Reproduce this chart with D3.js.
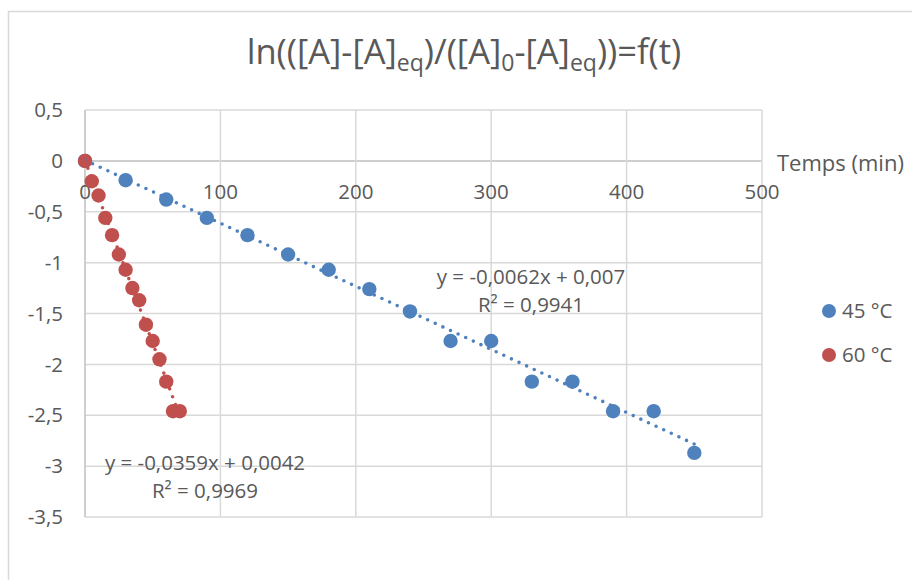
<!DOCTYPE html>
<html><head><meta charset="utf-8">
<script src="https://cdn.jsdelivr.net/npm/d3@7"></script>
<style>
body{margin:0;background:#fff;}
svg text{font-family:"Open Sans",sans-serif;fill:#595959;}
</style></head>
<body><svg id="c" width="912" height="580"></svg>
<script>
const series45X = [0,30,60,90,120,150,180,210,240,270,300,330,360,390,420,450];
const series45Y = [0,-0.19,-0.38,-0.56,-0.73,-0.92,-1.07,-1.26,-1.48,-1.77,-1.77,-2.17,-2.17,-2.46,-2.46,-2.87];
const series60X = [0,5,10,15,20,25,30,35,40,45,50,55,60,65,70];
const series60Y = [0,-0.2,-0.34,-0.56,-0.73,-0.92,-1.07,-1.25,-1.37,-1.61,-1.77,-1.95,-2.17,-2.46,-2.46];
const xTicks = [0,100,200,300,400,500];
const yTicks = [0.5,0,-0.5,-1,-1.5,-2,-2.5,-3,-3.5];
const seriesNames = ["45 °C","60 °C"];
const colors = ["#4F81BD","#C0504D"];
const fits = [{a:-0.0062,b:0.007,x0:0,x1:450,eq:"y = -0,0062x + 0,007",r2:"R² = 0,9941"},
              {a:-0.0359,b:0.0042,x0:0,x1:70,eq:"y = -0,0359x + 0,0042",r2:"R² = 0,9969"}];

const svg = d3.select("#c");
const fmt = v => String(v).replace(".", ",");
const x = d3.scaleLinear().domain([0,500]).range([85,762]);
const y = d3.scaleLinear().domain([-3.5,0.5]).range([517,110]);
const FS = 20.5;

// chart border
svg.append("rect").attr("x",8.5).attr("y",11.5).attr("width",1000).attr("height",1000)
  .attr("fill","none").attr("stroke","#d9d9d9").attr("stroke-width",1.5);

// title
const t = svg.append("text").attr("x",464).attr("y",64).attr("text-anchor","middle").attr("font-size",34.5);
t.append("tspan").text("ln(([A]-[A]");
t.append("tspan").attr("font-size",23).attr("dy",7).text("eq");
t.append("tspan").attr("dy",-7).text(")/([A]");
t.append("tspan").attr("font-size",23).attr("dy",7).text("0");
t.append("tspan").attr("dy",-7).text("-[A]");
t.append("tspan").attr("font-size",23).attr("dy",7).text("eq");
t.append("tspan").attr("dy",-7).text("))=f(t)");

// gridlines
const g = svg.append("g");
g.selectAll(".hg").data(yTicks).enter().append("line")
  .attr("x1",x(0)).attr("x2",x(500)).attr("y1",d=>y(d)).attr("y2",d=>y(d))
  .attr("stroke",d=>d===0?"#bfbfbf":"#d9d9d9").attr("stroke-width",1.5);
g.selectAll(".vg").data(xTicks).enter().append("line")
  .attr("y1",y(0.5)).attr("y2",y(-3.5)).attr("x1",d=>x(d)).attr("x2",d=>x(d))
  .attr("stroke",d=>d===0?"#bfbfbf":"#d9d9d9").attr("stroke-width",1.5);

// tick labels
svg.selectAll(".yl").data(yTicks).enter().append("text")
  .attr("x",63).attr("y",d=>y(d)).attr("dy","0.35em").attr("text-anchor","end")
  .attr("font-size",FS).text(fmt);
svg.selectAll(".xl").data(xTicks).enter().append("text")
  .attr("x",d=>x(d)).attr("y",y(0)+31).attr("dy","0.35em").attr("text-anchor","middle")
  .attr("font-size",FS).text(fmt);
svg.append("text").attr("x",777).attr("y",y(0)+2).attr("dy","0.35em").attr("font-size",22).text("Temps (min)");

// points
const data = [d3.zip(series45X,series45Y), d3.zip(series60X,series60Y)];
data.forEach((pts,i)=>{
  svg.append("g").selectAll("circle").data(pts).enter().append("circle")
    .attr("cx",d=>x(d[0])).attr("cy",d=>y(d[1])).attr("r",7.2).attr("fill",colors[i]);
});

// trendlines
fits.forEach((f,i)=>{
  svg.append("line").attr("x1",x(f.x0)).attr("y1",y(f.a*f.x0+f.b))
    .attr("x2",x(f.x1)).attr("y2",y(f.a*f.x1+f.b))
    .attr("stroke",colors[i]).attr("stroke-width",3.6).attr("stroke-linecap","round")
    .attr("stroke-dasharray","0,8.4");
});

// equations
const eqPos = [[531,277,305],[205,463,491]];
fits.forEach((f,i)=>{
  const [cx,y1,y2] = eqPos[i];
  svg.append("text").attr("x",cx).attr("y",y1).attr("dy","0.35em").attr("text-anchor","middle").attr("font-size",FS).text(f.eq);
  svg.append("text").attr("x",cx).attr("y",y2).attr("dy","0.35em").attr("text-anchor","middle").attr("font-size",FS).text(f.r2);
});

// legend
seriesNames.forEach((n,i)=>{
  const ly = 311 + i*44;
  svg.append("circle").attr("cx",829).attr("cy",ly).attr("r",7).attr("fill",colors[i]);
  svg.append("text").attr("x",842).attr("y",ly).attr("dy","0.35em").attr("font-size",FS).text(n);
});
</script></body></html>
